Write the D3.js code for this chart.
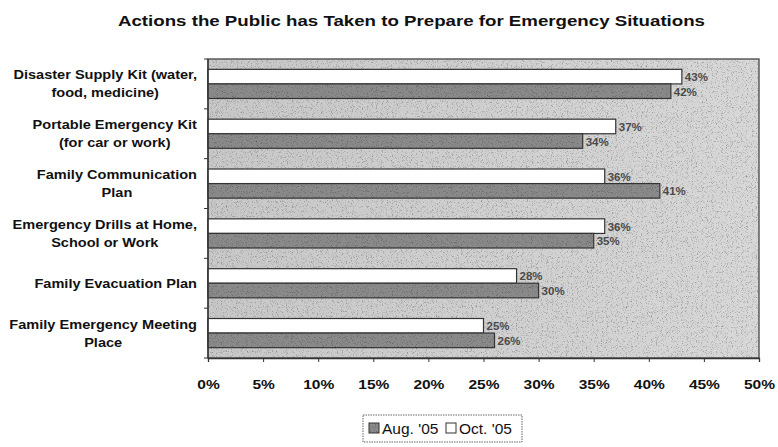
<!DOCTYPE html>
<html><head><meta charset="utf-8">
<script src="https://cdn.jsdelivr.net/npm/d3@7/dist/d3.min.js"></script>
<style>body{margin:0;background:#fff}svg{display:block}</style>
</head><body>
<script>
const categories = [
  ["Disaster Supply Kit (water,", "food, medicine)"],
  ["Portable Emergency Kit", "(for car or work)"],
  ["Family Communication", "Plan"],
  ["Emergency Drills at Home,", "School or Work"],
  ["Family Evacuation Plan"],
  ["Family Emergency Meeting", "Place"]
];
const seriesNames = ["Oct. '05", "Aug. '05"];
const octValues = [43, 37, 36, 36, 28, 25];
const augValues = [42, 34, 41, 35, 30, 26];
const xTicks = [0, 5, 10, 15, 20, 25, 30, 35, 40, 45, 50];
const title = "Actions the Public has Taken to Prepare for Emergency Situations";

const W = 778, H = 447;
const m = {l: 208, r: 19, t: 59, b: 89};
const FONT = "Liberation Sans, Arial, sans-serif";
const svg = d3.select("body").append("svg").attr("width", W).attr("height", H);
const defs = svg.append("defs");

function noiseFilter(id, seed, slope, intercept) {
  const f = defs.append("filter").attr("id", id).attr("x", 0).attr("y", 0).attr("width", 1).attr("height", 1)
    .attr("color-interpolation-filters", "sRGB");
  f.append("feTurbulence").attr("type", "fractalNoise").attr("baseFrequency", 1.2).attr("numOctaves", 1).attr("seed", seed).attr("result", "n");
  f.append("feColorMatrix").attr("in", "n").attr("type", "matrix")
    .attr("values", `${slope} 0 0 0 ${intercept}  ${slope} 0 0 0 ${intercept}  ${slope} 0 0 0 ${intercept}  0 0 0 0 1`).attr("result", "g");
  f.append("feBlend").attr("in", "SourceGraphic").attr("in2", "g").attr("mode", "multiply").attr("result", "b");
  f.append("feComposite").attr("in", "b").attr("in2", "SourceGraphic").attr("operator", "in");
}
noiseFilter("noiseBg", 3, 1.2, 0.45);
noiseFilter("noiseBar", 7, 1.2, 0.45);

const iw = W - m.l - m.r, ih = H - m.t - m.b;
const x = d3.scaleLinear().domain([0, 50]).range([m.l, m.l + iw]);
const y = d3.scaleBand().domain(d3.range(categories.length)).range([m.t, m.t + ih]).paddingInner(0).paddingOuter(0);
const sub = d3.scaleBand().domain([0, 1]).range([0, y.bandwidth()]).paddingInner(0).paddingOuter(0.71);

// title (stretched horizontally like the scanned original)
svg.append("text").attr("x", 118).attr("y", 26)
  .attr("font-family", FONT).attr("font-weight", "bold").attr("font-size", 15.5)
  .attr("textLength", 587).attr("lengthAdjust", "spacingAndGlyphs").attr("fill", "#111")
  .text(title);

// plot background
const bgGrad = defs.append("linearGradient").attr("id", "bgg").attr("x1", 0).attr("x2", 1);
bgGrad.append("stop").attr("offset", 0).attr("stop-color", "#c8c8c8");
bgGrad.append("stop").attr("offset", 1).attr("stop-color", "#d8d8d8");
svg.append("rect").attr("x", m.l).attr("y", m.t).attr("width", iw).attr("height", ih)
  .attr("fill", "url(#bgg)").attr("filter", "url(#noiseBg)");
svg.append("rect").attr("x", m.l).attr("y", m.t).attr("width", iw).attr("height", ih)
  .attr("fill", "none").attr("stroke", "#444").attr("stroke-width", 1.3);

// bars
const rows = categories.map((c, i) => ({i, vals: [octValues[i], augValues[i]]}));
const g = svg.append("g");
rows.forEach(r => {
  r.vals.forEach((v, k) => {
    const yy = y(r.i) + sub(k);
    g.append("rect").attr("x", x(0)).attr("y", yy).attr("width", x(v) - x(0)).attr("height", sub.bandwidth())
      .attr("fill", k === 0 ? "#ffffff" : "#8a8a8a").attr("filter", k === 0 ? null : "url(#noiseBar)");
    g.append("rect").attr("x", x(0)).attr("y", yy).attr("width", x(v) - x(0)).attr("height", sub.bandwidth())
      .attr("fill", "none").attr("stroke", "#333").attr("stroke-width", 1.2);
    g.append("text").attr("x", x(v) + 3).attr("y", yy + sub.bandwidth() / 2 + 4.5)
      .attr("font-family", FONT).attr("font-weight", "bold").attr("font-size", 11.5)
      .attr("fill", "#4a4a4a").text(v + "%");
  });
});

// y axis
const yAxis = svg.append("g").attr("transform", `translate(${m.l},0)`);
yAxis.append("line").attr("x1", 0).attr("x2", 0).attr("y1", m.t).attr("y2", m.t + ih).attr("stroke", "#333").attr("stroke-width", 1.3);
d3.range(categories.length + 1).forEach(i => {
  const yy = m.t + i * y.step();
  yAxis.append("line").attr("x1", -4).attr("x2", 0).attr("y1", yy).attr("y2", yy).attr("stroke", "#333");
});
const SX = 1.12;
categories.forEach((lines, i) => {
  const cy = y(i) + y.bandwidth() / 2;
  const grp = svg.append("g").attr("transform", `translate(197,0) scale(${SX},1)`);
  const t = grp.append("text").attr("text-anchor", "middle")
    .attr("font-family", FONT).attr("font-weight", "bold").attr("font-size", 13).attr("fill", "#111");
  const lh = 18;
  const y0 = cy - (lines.length - 1) * lh / 2 + 4.5;
  lines.forEach((ln, j) => {
    t.append("tspan").attr("x", 0).attr("y", y0 + j * lh).text(ln);
  });
  const bb = t.node().getBBox();
  t.selectAll("tspan").attr("x", -bb.width / 2);
});

// x axis
const xAxis = d3.axisBottom(x).tickValues(xTicks).tickFormat(d => d + "%").tickSize(4).tickPadding(17);
const xg = svg.append("g").attr("transform", `translate(0,${m.t + ih})`).call(xAxis);
xg.select(".domain").attr("stroke", "#333").attr("stroke-width", 1.3);
xg.selectAll(".tick line").attr("stroke", "#333");
xg.selectAll(".tick text").attr("font-family", FONT).attr("font-weight", "bold")
  .attr("font-size", 13.5).attr("fill", "#111")
  .attr("transform", "scale(1.15,1)");

// legend
const lg = svg.append("g").attr("transform", "translate(363,415)");
lg.append("rect").attr("x", 0).attr("y", 0).attr("width", 159).attr("height", 27)
  .attr("fill", "#fff").attr("stroke", "#666").attr("stroke-dasharray", "1.5,1");
const legendItems = [{name: seriesNames[1], fill: "#8a8a8a", f: "url(#noiseBar)", x: 6}, {name: seriesNames[0], fill: "#fff", f: null, x: 83}];
legendItems.forEach(it => {
  lg.append("rect").attr("x", it.x).attr("y", 8).attr("width", 10).attr("height", 10).attr("fill", it.fill).attr("filter", it.f);
  lg.append("rect").attr("x", it.x).attr("y", 8).attr("width", 10).attr("height", 10).attr("fill", "none").attr("stroke", "#333");
  lg.append("text").attr("x", it.x + 13).attr("y", 19).attr("font-family", FONT)
    .attr("font-size", 15.5).attr("fill", "#111").text(it.name);
});
</script>
</body></html>
